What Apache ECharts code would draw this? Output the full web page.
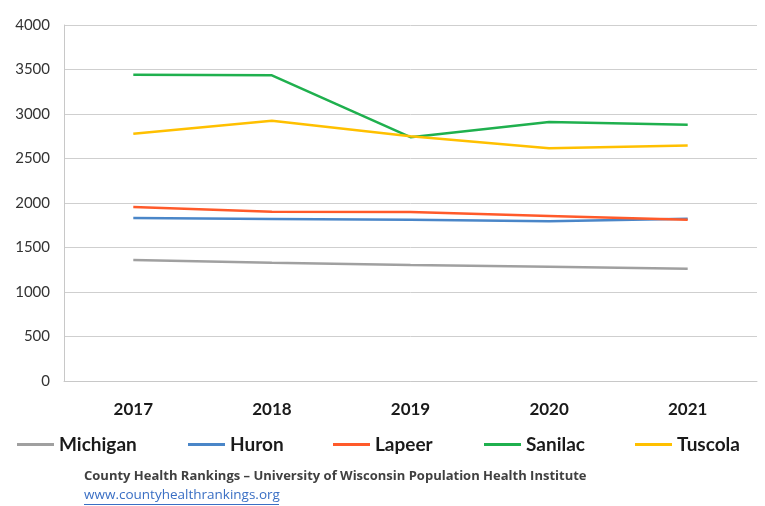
<!DOCTYPE html>
<html><head><meta charset="utf-8">
<script src="https://cdn.jsdelivr.net/npm/echarts@6/dist/echarts.min.js"></script>
<style>html,body{margin:0;padding:0;background:#fff}#c{width:765px;height:506px}</style>
</head><body><div id="c"></div>
<script>
var years = ['2017','2018','2019','2020','2021'];
var michigan = [1360, 1330, 1303, 1285, 1262];
var huron = [1831, 1820, 1812, 1794, 1824];
var lapeer = [1955, 1903, 1899, 1854, 1812];
var sanilac = [3442, 3435, 2740, 2910, 2880];
var tuscola = [2779, 2925, 2750, 2614, 2647];
var yTicks = [0, 500, 1000, 1500, 2000, 2500, 3000, 3500, 4000];

var names = ['Michigan','Huron','Lapeer','Sanilac','Tuscola'];
var colors = ['#a0a0a0','#4a86c8','#ff5a2a','#1fb04e','#ffc000'];
var datas = [michigan, huron, lapeer, sanilac, tuscola];
var legendLeft = [12, 183, 328, 479, 630];
var F = 'Lato, "Open Sans", sans-serif';
var F2 = '"Open Sans", Lato, sans-serif';

var chart = echarts.init(document.getElementById('c'));
chart.setOption({
  animation: false,
  color: colors,
  grid: {left: 64, right: 8, top: 25, bottom: 125},
  xAxis: {
    type: 'category', data: years, boundaryGap: true,
    axisLine: {lineStyle: {color: '#c8c8c8', width: 1}},
    axisTick: {show: false},
    axisLabel: {color: '#1a1a1a', fontFamily: F, fontWeight: 'bold', fontSize: 17, margin: 20}
  },
  yAxis: {
    type: 'value', min: yTicks[0], max: yTicks[yTicks.length-1], interval: 500,
    axisLine: {show: true, lineStyle: {color: '#c8c8c8'}},
    axisTick: {show: false},
    splitLine: {lineStyle: {color: '#cfcfcf', width: 1}},
    axisLabel: {color: '#333', fontFamily: F, fontSize: 15, margin: 14, formatter: function(v){ return String(v); }}
  },
  legend: names.map(function(n, i){
    return {
      data: [n], left: legendLeft[i], top: 430,
      icon: 'rect', itemWidth: 37, itemHeight: 3, itemGap: 0,
      textStyle: {fontFamily: F, fontWeight: 'bold', fontSize: 19, color: '#1a1a1a'}
    };
  }),
  graphic: [
    {type: 'text', left: 84, top: 470, style: {text: 'County Health Rankings \u2013 University of Wisconsin Population Health Institute', font: 'bold 13px ' + F2, fill: '#404040'}},
    {type: 'text', left: 84, top: 488, style: {text: 'www.countyhealthrankings.org', font: '13.5px ' + F2, fill: '#3a6fc4'}},
    {type: 'rect', left: 84, top: 504, shape: {width: 195, height: 1}, style: {fill: '#3a6fc4'}}
  ],
  series: names.map(function(n, i){
    return {
      name: n, type: 'line', data: datas[i], symbol: 'none',
      lineStyle: {width: 2.5, color: colors[i]}, itemStyle: {color: colors[i]}
    };
  })
});
</script></body></html>
